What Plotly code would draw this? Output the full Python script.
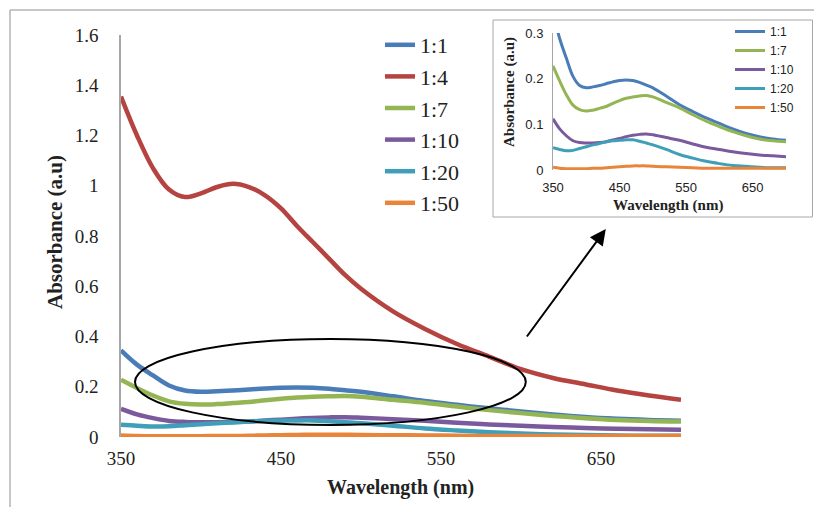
import plotly.graph_objects as go

# ---------------- data ----------------
wavelength = [350, 360, 370, 380, 390, 400, 410, 420, 430, 440, 450, 460, 470,
              480, 490, 500, 520, 540, 560, 580, 600, 620, 640, 660, 680, 700]

r_1_1 = [0.345, 0.288, 0.245, 0.205, 0.185, 0.180, 0.182, 0.185, 0.189, 0.193, 0.196, 0.197, 0.196,
         0.192, 0.186, 0.180, 0.162, 0.143, 0.128, 0.114, 0.102, 0.090, 0.080, 0.073, 0.068, 0.065]
r_1_4 = [1.355, 1.200, 1.070, 0.985, 0.955, 0.970, 0.995, 1.008, 0.995, 0.962, 0.910, 0.840, 0.775,
         0.710, 0.645, 0.590, 0.500, 0.430, 0.370, 0.320, 0.270, 0.235, 0.210, 0.185, 0.165, 0.148]
r_1_7 = [0.228, 0.195, 0.165, 0.142, 0.132, 0.129, 0.131, 0.135, 0.139, 0.146, 0.152, 0.157, 0.160,
         0.162, 0.163, 0.160, 0.148, 0.136, 0.121, 0.107, 0.095, 0.084, 0.075, 0.068, 0.064, 0.062]
r_1_10 = [0.112, 0.090, 0.075, 0.064, 0.060, 0.059, 0.059, 0.060, 0.062, 0.066, 0.069, 0.073, 0.076,
          0.078, 0.079, 0.077, 0.071, 0.065, 0.057, 0.050, 0.045, 0.040, 0.036, 0.033, 0.031, 0.029]
r_1_20 = [0.049, 0.045, 0.042, 0.043, 0.047, 0.051, 0.055, 0.058, 0.062, 0.064, 0.065, 0.066, 0.066,
          0.063, 0.059, 0.055, 0.045, 0.034, 0.026, 0.019, 0.014, 0.010, 0.008, 0.006, 0.005, 0.005]
r_1_50 = [0.006, 0.004, 0.003, 0.003, 0.003, 0.003, 0.004, 0.004, 0.005, 0.006, 0.007, 0.008, 0.009,
          0.009, 0.009, 0.008, 0.007, 0.006, 0.005, 0.004, 0.004, 0.004, 0.004, 0.004, 0.004, 0.004]

series_names = ["1:1", "1:4", "1:7", "1:10", "1:20", "1:50"]
series_values = [r_1_1, r_1_4, r_1_7, r_1_10, r_1_20, r_1_50]
inset_names = ["1:1", "1:7", "1:10", "1:20", "1:50"]

main_xticks = [350, 450, 550, 650]
main_yticks = [0, 0.2, 0.4, 0.6, 0.8, 1, 1.2, 1.4, 1.6]
main_ytick_text = ["0", "0.2", "0.4", "0.6", "0.8", "1", "1.2", "1.4", "1.6"]
inset_yticks = [0, 0.1, 0.2, 0.3]
inset_ytick_text = ["0", "0.1", "0.2", "0.3"]

# ellipse / arrow annotation anchors (data units of main axes)
ellipse_x = [358.75, 603]
ellipse_y = [0.048, 0.39]
arrow_tail = (603, 0.394)
arrow_head = (653, 0.828)

colors = {"1:1": "#4A7DB8", "1:4": "#B5433F", "1:7": "#93B553",
          "1:10": "#7A5A9C", "1:20": "#3F9FB8", "1:50": "#E8853A"}

W, H = 814, 507
SERIF = "Liberation Serif, Times New Roman, serif"
SANS = "Liberation Sans, Arial, sans-serif"

fig = go.Figure()

for name, vals in zip(series_names, series_values):
    fig.add_trace(go.Scatter(
        x=wavelength, y=vals, mode="lines", name=name,
        line=dict(color=colors[name], width=4.5, shape="spline", smoothing=1),
        xaxis="x", yaxis="y", legend="legend", hoverinfo="skip"))

for name in inset_names:
    vals = series_values[series_names.index(name)]
    fig.add_trace(go.Scatter(
        x=wavelength, y=vals, mode="lines", name=name,
        line=dict(color=colors[name], width=3, shape="spline", smoothing=1),
        xaxis="x2", yaxis="y2", legend="legend2", hoverinfo="skip"))

def px_x(p):
    return p / W

def px_y(p):
    return (H - p) / H

fig.update_layout(
    template="none",
    width=W, height=H,
    margin=dict(l=0, r=0, t=0, b=0, pad=0, autoexpand=False),
    paper_bgcolor="white", plot_bgcolor="white",
    xaxis=dict(domain=[px_x(121), px_x(681)], range=[350, 700], automargin=False,
               tickvals=main_xticks, showgrid=False, zeroline=False, showline=False,
               ticks="outside", ticklen=4, tickcolor="rgba(0,0,0,0)",
               tickfont=dict(family=SERIF, size=19, color="#222")),
    yaxis=dict(domain=[px_y(437), px_y(35)], range=[0, 1.6], automargin=False,
               tickvals=main_yticks, ticktext=main_ytick_text,
               showgrid=False, zeroline=False, showline=True, linecolor="#a6a6a6", linewidth=1.5,
               ticks="outside", ticklen=17, tickcolor="rgba(0,0,0,0)",
               tickfont=dict(family=SERIF, size=19, color="#222")),
    xaxis2=dict(domain=[px_x(553), px_x(786)], range=[350, 700], anchor="y2", automargin=False,
                tickvals=main_xticks, showgrid=False, zeroline=False, showline=False,
                ticks="outside", ticklen=5, tickcolor="rgba(0,0,0,0)",
                tickfont=dict(family=SANS, size=13, color="#222")),
    yaxis2=dict(domain=[px_y(170), px_y(33)], range=[0, 0.3], anchor="x2", automargin=False,
                tickvals=inset_yticks, ticktext=inset_ytick_text,
                showgrid=False, zeroline=False, showline=True, linecolor="#a6a6a6", linewidth=1,
                ticks="outside", ticklen=6, tickcolor="rgba(0,0,0,0)",
                tickfont=dict(family=SANS, size=13, color="#222")),
    legend=dict(x=px_x(380), y=px_y(24), xanchor="left", yanchor="top",
                bgcolor="rgba(0,0,0,0)", font=dict(family=SERIF, size=22, color="#222")),
    legend2=dict(x=px_x(730), y=px_y(17), xanchor="left", yanchor="top",
                 bgcolor="rgba(0,0,0,0)", font=dict(family=SANS, size=12, color="#222")),
    showlegend=True,
)

shapes = [
    # outer frame (top and left edges)
    dict(type="line", xref="paper", yref="paper", x0=px_x(10), x1=1, y0=px_y(10), y1=px_y(10),
         line=dict(color="#b4b4b4", width=1.5)),
    dict(type="line", xref="paper", yref="paper", x0=px_x(10), x1=px_x(10), y0=px_y(10), y1=0,
         line=dict(color="#b4b4b4", width=1.5)),
    # inset frame
    dict(type="rect", xref="paper", yref="paper", x0=px_x(493), x1=px_x(812.5), y0=px_y(217), y1=px_y(20),
         line=dict(color="#a6a6a6", width=1)),
    # ellipse
    dict(type="circle", xref="x", yref="y", x0=ellipse_x[0], x1=ellipse_x[1],
         y0=ellipse_y[0], y1=ellipse_y[1], line=dict(color="black", width=2)),
]
fig.update_layout(shapes=shapes)

annotations = [
    dict(text="<b>Wavelength (nm)</b>", xref="paper", yref="paper", x=px_x(400), y=px_y(487),
         xanchor="center", yanchor="middle",
         showarrow=False, font=dict(family=SERIF, size=20, color="#222")),
    dict(text="<b>Absorbance (a.u)</b>", xref="paper", yref="paper", x=px_x(55), y=px_y(232),
         xanchor="center", yanchor="middle",
         showarrow=False, textangle=-90, font=dict(family=SERIF, size=21, color="#222")),
    dict(text="<b>Wavelength (nm)</b>", xref="paper", yref="paper", x=px_x(668), y=px_y(206),
         xanchor="center", yanchor="middle",
         showarrow=False, font=dict(family=SERIF, size=15, color="#222")),
    dict(text="<b>Absorbance (a.u)</b>", xref="paper", yref="paper", x=px_x(509), y=px_y(92),
         xanchor="center", yanchor="middle",
         showarrow=False, textangle=-90, font=dict(family=SERIF, size=15, color="#222")),
    dict(text="", x=arrow_head[0], y=arrow_head[1], xref="x", yref="y",
         ax=arrow_tail[0], ay=arrow_tail[1], axref="x", ayref="y",
         showarrow=True, arrowhead=2, arrowsize=1.6, arrowwidth=2, arrowcolor="black"),
]
fig.update_layout(annotations=annotations)

fig.write_html("out.html")
